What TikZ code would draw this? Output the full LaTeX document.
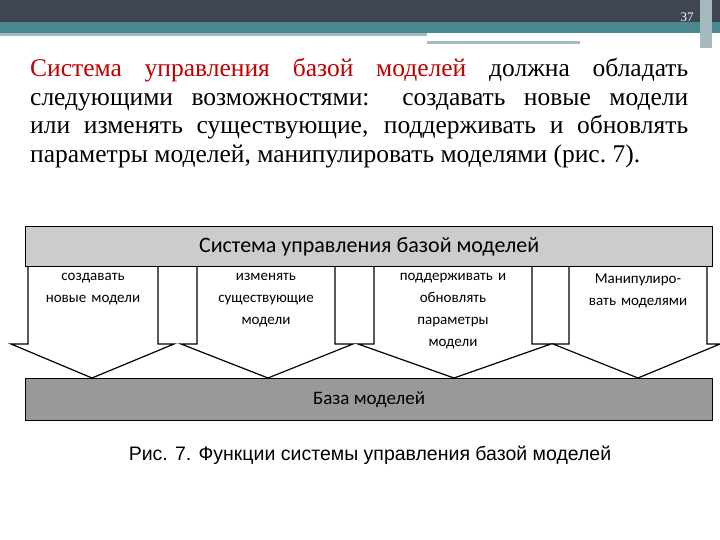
\documentclass[tikz,border=0pt]{standalone}
\usepackage{fontspec}
\setmainfont{Liberation Serif}
\newfontfamily\carfont{Carlito}
\newfontfamily\arifont{Liberation Sans}
\begin{document}
\begin{tikzpicture}[x=1pt,y=-1pt,
 arr/.style={draw=black,fill=white,line width=1.2pt,line join=miter},
 lbl/.style={font=\carfont\fontsize{15}{22}\selectfont,align=center,text width=130pt,anchor=north}]
\useasboundingbox (0,0) rectangle (720,540);
\fill[white] (0,0) rectangle (720,540);
\fill[fill={rgb,255:red,63;green,69;blue,82}] (0,0) rectangle (720,22);
\fill[fill={rgb,255:red,74;green,135;blue,144}] (0,22) rectangle (720,33);
\fill[fill={rgb,255:red,165;green,185;blue,190}] (0,33) rectangle (427,36);
\fill[fill={rgb,255:red,165;green,185;blue,190}] (427,41) rectangle (580,44);
\fill[fill={rgb,255:red,165;green,185;blue,190}] (700,0) rectangle (712,48);
\node[text=white,font=\fontsize{13}{15}\selectfont] (pg) at (687,17) {37};
\node[anchor=north west,text width=658pt,align=justify,font=\fontsize{25.5}{28.6}\selectfont,inner sep=0pt] (para) at (30,58)
 {\textcolor{red!75!black}{Система управления базой моделей} должна обладать следующими возможностями: создавать новые модели или изменять существующие, поддерживать и обновлять параметры моделей, манипулировать моделями (рис.~7).};
% arrows
\foreach \a/\b/\c/\d/\t in {28/158/11/174/92, 197/335/181/353/268, 374/532/358/551/454, 569/707/553/720/638}
 \draw[arr] (\a,266) -- (\a,344) -- (\c,344) -- (\t,378) -- (\d,344) -- (\b,344) -- (\b,266);
\node[draw=black,line width=1.2pt,fill={rgb,255:red,204;green,204;blue,204},minimum width=687pt,minimum height=40pt,anchor=north west,font=\carfont\fontsize{22}{26}\selectfont] (top) at (25,226) {Система управления базой моделей};
\node[draw=black,line width=1.2pt,fill={rgb,255:red,153;green,153;blue,153},minimum width=687pt,minimum height=42pt,anchor=north west,font=\carfont\fontsize{19}{22}\selectfont] (bot) at (25,378) {База моделей};
\node[lbl] (l1) at (93,270) {создавать\\новые модели};
\node[lbl] (l2) at (266,270) {изменять\\существующие\\модели};
\node[lbl] (l3) at (453,270) {поддерживать и\\обновлять\\параметры\\модели};
\node[lbl] (l4) at (638,270) {Манипулиро-\\вать моделями};
\node[font=\arifont\fontsize{19.5}{22}\selectfont] (cap) at (370,455) {Рис. 7. Функции системы управления базой моделей};
\end{tikzpicture}
\end{document}
